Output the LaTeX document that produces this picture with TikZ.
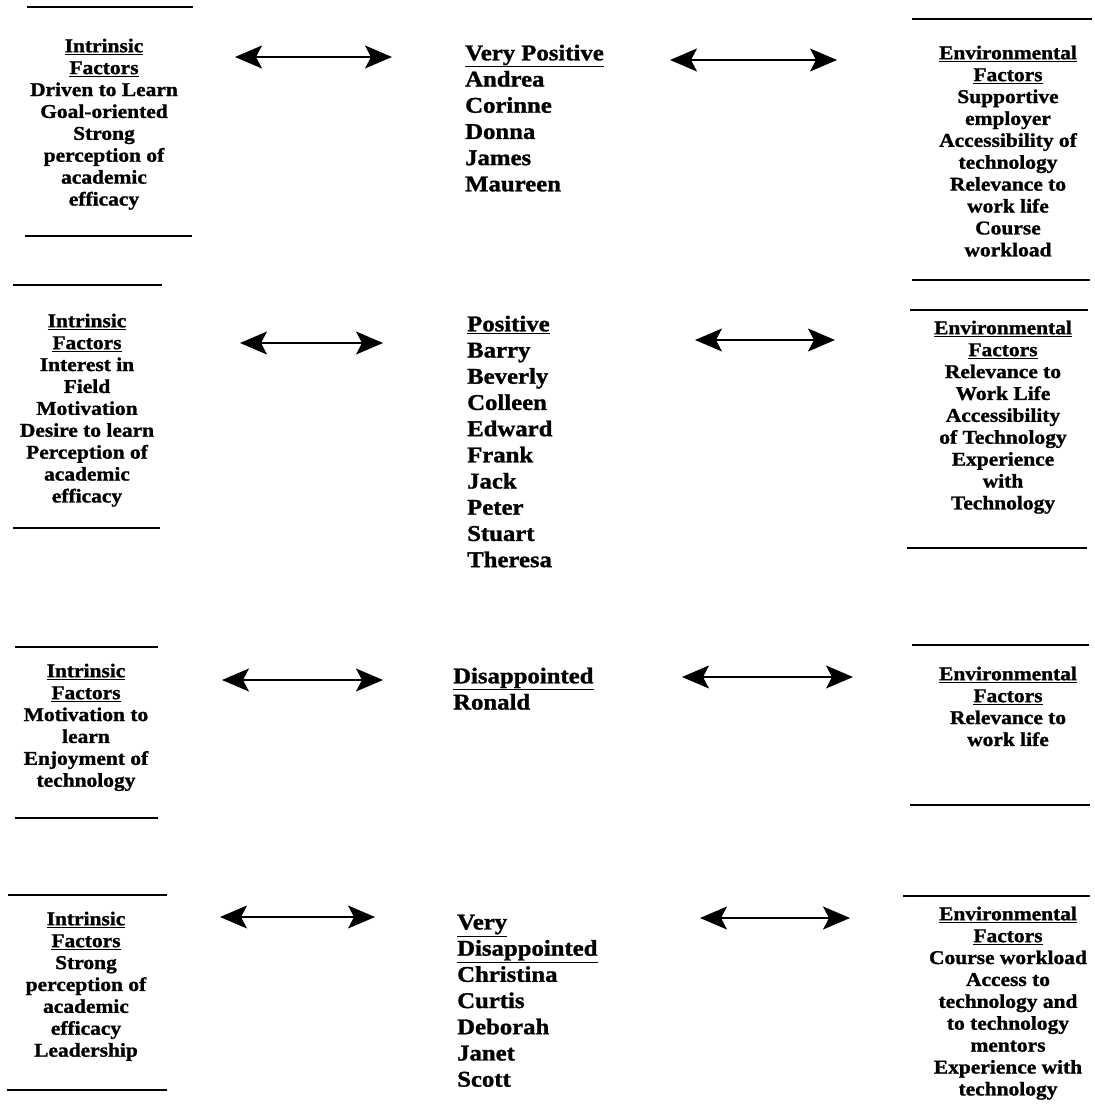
\documentclass[tikz,border=0pt]{standalone}
\usepackage{fontspec}
\setmainfont{Liberation Serif}[FakeStretch=1.1, BoldFeatures={FakeBold=1.2}]
\usetikzlibrary{arrows.meta}
\tikzset{
  side/.style={anchor=north, inner sep=0pt, align=center,
    font={\fontsize{19.5}{21.9}\selectfont\bfseries}},
  mid/.style={anchor=north west, inner sep=0pt, align=left,
    font={\fontsize{22.5}{26.2}\selectfont\bfseries}},
  rule/.style={line width=1.6pt},
  dbl/.style={line width=1.3pt, {Stealth[length=27pt,width=23pt,inset=6pt]}-{Stealth[length=27pt,width=23pt,inset=6pt]}}
}
\begin{document}
\begin{tikzpicture}[x=1pt,y=-1pt]
\useasboundingbox[fill=white] (0,0) rectangle (1094,1110);

% ---- Row 1 ----
\draw[rule] (27,7) -- (193,7);
\draw[rule] (25,236) -- (192,236);
\node[side] (l1) at (104,38.5) {\underline{Intrinsic}\\\underline{Factors}\\Driven to Learn\\Goal-oriented\\Strong\\perception of\\academic\\efficacy};
\node[mid] (m1) at (465,44.5) {\underline{Very Positive}\\Andrea\\Corinne\\Donna\\James\\Maureen};
\draw[rule] (912,19) -- (1092,19);
\draw[rule] (912,280) -- (1090,280);
\node[side] (r1) at (1008,45.5) {\underline{Environmental}\\\underline{Factors}\\Supportive\\employer\\Accessibility of\\technology\\Relevance to\\work life\\Course\\workload};
\coordinate (a1a) at (235,57); \coordinate (a1b) at (392,57);
\coordinate (b1a) at (670,60); \coordinate (b1b) at (837,60);
\draw[dbl] (a1a) -- (a1b);
\draw[dbl] (b1a) -- (b1b);

% ---- Row 2 ----
\draw[rule] (13,285) -- (162,285);
\draw[rule] (13,528) -- (160,528);
\node[side] (l2) at (87,313.5) {\underline{Intrinsic}\\\underline{Factors}\\Interest in\\Field\\Motivation\\Desire to learn\\Perception of\\academic\\efficacy};
\node[mid] (m2) at (467,315.5) {\underline{Positive}\\Barry\\Beverly\\Colleen\\Edward\\Frank\\Jack\\Peter\\Stuart\\Theresa};
\draw[rule] (910,310) -- (1088,310);
\draw[rule] (907,548) -- (1087,548);
\node[side] (r2) at (1003,320.5) {\underline{Environmental}\\\underline{Factors}\\Relevance to\\Work Life\\Accessibility\\of Technology\\Experience\\with\\Technology};
\coordinate (a2a) at (240,343); \coordinate (a2b) at (383,343);
\coordinate (b2a) at (695,340); \coordinate (b2b) at (835,340);
\draw[dbl] (a2a) -- (a2b);
\draw[dbl] (b2a) -- (b2b);

% ---- Row 3 ----
\draw[rule] (15,647) -- (158,647);
\draw[rule] (15,818) -- (158,818);
\node[side] (l3) at (86,663.5) {\underline{Intrinsic}\\\underline{Factors}\\Motivation to\\learn\\Enjoyment of\\technology};
\node[mid] (m3) at (453,667.5) {\underline{Disappointed}\\Ronald};
\draw[rule] (912,645) -- (1089,645);
\draw[rule] (910,805) -- (1090,805);
\node[side] (r3) at (1008,666.5) {\underline{Environmental}\\\underline{Factors}\\Relevance to\\work life};
\coordinate (a3a) at (222,680); \coordinate (a3b) at (383,680);
\coordinate (b3a) at (682,677); \coordinate (b3b) at (853,677);
\draw[dbl] (a3a) -- (a3b);
\draw[dbl] (b3a) -- (b3b);

% ---- Row 4 ----
\draw[rule] (8,895) -- (167,895);
\draw[rule] (7,1090) -- (167,1090);
\node[side] (l4) at (86,911.5) {\underline{Intrinsic}\\\underline{Factors}\\Strong\\perception of\\academic\\efficacy\\Leadership};
\node[mid] (m4) at (457,914.5) {\underline{Very}\\\underline{Disappointed}\\Christina\\Curtis\\Deborah\\Janet\\Scott};
\draw[rule] (903,896) -- (1090,896);
\node[side] (r4) at (1008,906.5) {\underline{Environmental}\\\underline{Factors}\\Course workload\\Access to\\technology and\\to technology\\mentors\\Experience with\\technology};
\coordinate (a4a) at (220,917); \coordinate (a4b) at (375,917);
\coordinate (b4a) at (700,918); \coordinate (b4b) at (850,918);
\draw[dbl] (a4a) -- (a4b);
\draw[dbl] (b4a) -- (b4b);
\end{tikzpicture}
\end{document}
